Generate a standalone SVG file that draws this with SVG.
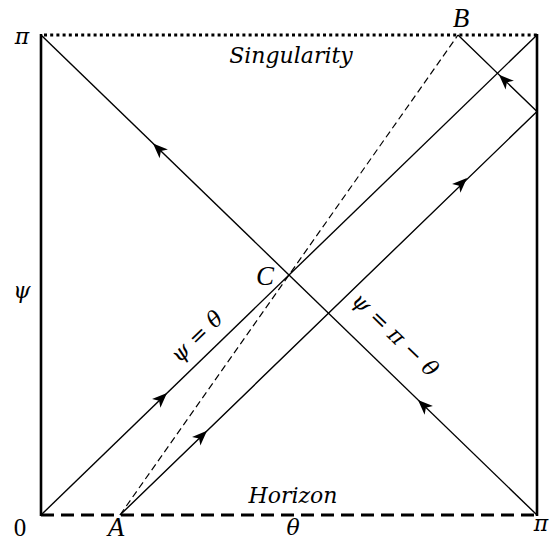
<svg xmlns="http://www.w3.org/2000/svg" width="554" height="542" viewBox="0 0 554 542">
<style>
.thin{stroke:#000;stroke-width:1.4;fill:none}
.dash{stroke:#000;stroke-width:1.2;fill:none;stroke-dasharray:7 4}
.edge{stroke:#000;stroke-width:2.6;fill:none}
.it{font-family:"DejaVu Serif","Liberation Serif",serif;font-style:italic;font-size:22px;fill:#000}
.let{font-family:"Liberation Serif","DejaVu Serif",serif;font-style:italic;font-size:27px;fill:#000}
.num{font-family:"Liberation Serif","DejaVu Serif",serif;font-size:25px;fill:#000}
</style>
<defs>
<path id="ah" d="M0,0 L-15,-6 L-11,0 L-15,6 Z" fill="#000"/>
</defs>
<rect width="554" height="542" fill="#fff"/>
<g id="frame">
<line class="edge" x1="41" y1="34" x2="41" y2="516"/>
<line class="edge" x1="537" y1="34" x2="537" y2="516"/>
<line x1="44" y1="35" x2="537" y2="35" stroke="#000" stroke-width="3" stroke-dasharray="3 3.2"/>
<line x1="41" y1="515" x2="537" y2="515" stroke="#000" stroke-width="3" stroke-dasharray="13 7"/>
</g>
<g id="connectors">
<line class="thin" x1="41" y1="35" x2="537" y2="515"/>
<line class="thin" x1="41" y1="515" x2="537" y2="35"/>
<polyline class="thin" points="120,515 537,111.5 458,35"/>
<line class="dash" x1="120" y1="515" x2="458" y2="35"/>
<use href="#ah" transform="translate(153,143.4) rotate(-135.94)"/>
<use href="#ah" transform="translate(418,400) rotate(-135.94)"/>
<use href="#ah" transform="translate(499,74.7) rotate(-135.94)"/>
<use href="#ah" transform="translate(167,393) rotate(-44.06)"/>
<use href="#ah" transform="translate(207,430.8) rotate(-44.06)"/>
<use href="#ah" transform="translate(467,178) rotate(-44.06)"/>
</g>
<g id="labels">
<text class="it" x="22" y="44" text-anchor="middle">π</text>
<text class="it" x="22" y="298" text-anchor="middle">ψ</text>
<text class="num" x="20" y="536" text-anchor="middle">0</text>
<text class="let" x="116" y="536" text-anchor="middle">A</text>
<text class="it" x="293" y="535" text-anchor="middle">θ</text>
<text class="it" x="541" y="531" text-anchor="middle">π</text>
<text class="let" x="461" y="27" text-anchor="middle">B</text>
<text class="let" x="265" y="285" text-anchor="middle">C</text>
<text class="it" x="291" y="63" text-anchor="middle">Singularity</text>
<text class="it" x="293" y="503" text-anchor="middle">Horizon</text>
<text class="it" text-anchor="middle" transform="translate(202,342) rotate(-44)">ψ = θ</text>
<text class="it" text-anchor="middle" transform="translate(390,340) rotate(44)">ψ = π − θ</text>
</g>
</svg>
